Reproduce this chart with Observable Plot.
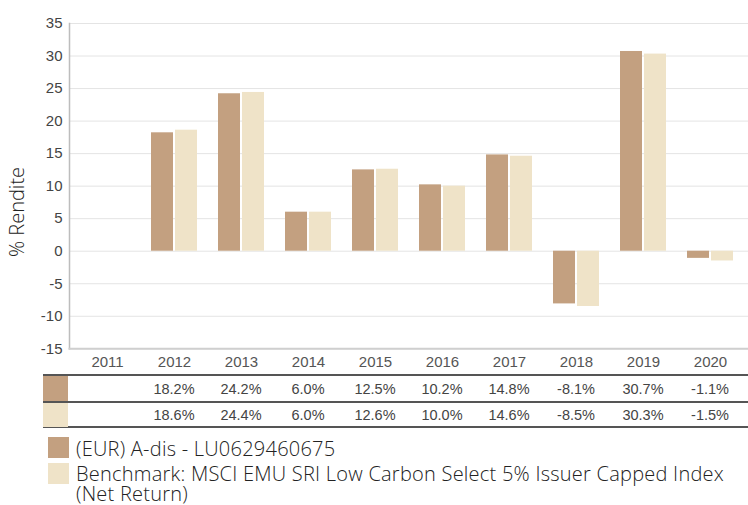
<!DOCTYPE html>
<html>
<head>
<meta charset="utf-8">
<script src="https://cdn.jsdelivr.net/npm/d3@7"></script>
<script src="https://cdn.jsdelivr.net/npm/@observablehq/plot@0.6"></script>
<style>
  html, body { margin: 0; padding: 0; background: #fff; }
  #wrap { position: relative; width: 748px; height: 505px; overflow: hidden; }
  #chart { position: absolute; left: 0; top: 0; }
  .ylabel { position: absolute; left: 17px; top: 212px; transform: translate(-50%, -50%) rotate(-90deg);
            font-family: "Open Sans", sans-serif; font-weight: 300; font-size: 20px; line-height: 20px; color: #222; white-space: nowrap; }
  .tline { position: absolute; left: 43px; width: 705px; height: 0; border-top: 2px solid #555; }
  .tsw { position: absolute; left: 43px; width: 25px; }
  .tval { position: absolute; transform: translate(-50%, -50%); font-family: "Liberation Sans", Arial, sans-serif;
          font-size: 14.5px; color: #444; white-space: nowrap; }
  .lsw { position: absolute; left: 48px; width: 21px; height: 21px; }
  .ltxt { position: absolute; left: 76px; font-family: "Open Sans", sans-serif; font-weight: 300; font-size: 20px;
          line-height: 20px; color: #222; white-space: nowrap; }
</style>
</head>
<body>
<div id="wrap"></div>
<script>
const years = [2011, 2012, 2013, 2014, 2015, 2016, 2017, 2018, 2019, 2020];
const fundValues = [null, 18.2, 24.2, 6.0, 12.5, 10.2, 14.8, -8.1, 30.7, -1.1];
const benchValues = [null, 18.6, 24.4, 6.0, 12.6, 10.0, 14.6, -8.5, 30.3, -1.5];
const yTicks = [-15, -10, -5, 0, 5, 10, 15, 20, 25, 30, 35];
const seriesNames = ["(EUR) A-dis - LU0629460675", "Benchmark: MSCI EMU SRI Low Carbon Select 5% Issuer Capped Index", "(Net Return)"];
const yLabel = "% Rendite";

const fundColor = "#c3a080";
const benchColor = "#efe3c8";

const fund = years.map((year, i) => ({year, value: fundValues[i]}));
const bench = years.map((year, i) => ({year, value: benchValues[i]}));

const chart = Plot.plot({
  width: 748,
  height: 375,
  marginTop: 23,
  marginBottom: 26.7,
  marginLeft: 69,
  marginRight: 0,
  style: {fontFamily: "'Liberation Sans', Arial, sans-serif", background: "#fff"},
  x: {domain: years, paddingInner: 0.31, paddingOuter: 0.155, axis: null},
  y: {domain: [-15, 35], axis: null},
  marks: [
    Plot.gridY(yTicks, {stroke: "#e4e4e4", strokeOpacity: 1}),
    Plot.barY(fund, {filter: d => d.value != null, x: "year", y: "value", fill: fundColor, insetRight: 24}),
    Plot.barY(bench, {filter: d => d.value != null, x: "year", y: "value", fill: benchColor, insetLeft: 24}),
    Plot.frame({anchor: "left", stroke: "#bdbdbd", strokeWidth: 1.5}),
    Plot.frame({anchor: "bottom", stroke: "#cfcfcf", strokeWidth: 2}),
    Plot.axisY(yTicks, {tickSize: 0, tickPadding: 7, fontSize: 15, fill: "#444", label: null, tickFormat: d => String(d)}),
    Plot.axisX(years, {tickSize: 0, tickPadding: 8, fontSize: 15, fill: "#555", label: null, tickFormat: d => String(d)})
  ]
});
chart.id = "chart";
const wrap = document.getElementById("wrap");
wrap.appendChild(chart);

const lab = document.createElement("div");
lab.className = "ylabel"; lab.textContent = yLabel;
wrap.appendChild(lab);

// table
const sx = chart.scale("x");
const cx = y => sx.apply(y) + sx.bandwidth / 2;
[374, 400.5, 426].forEach(t => {
  const l = document.createElement("div"); l.className = "tline"; l.style.top = t + "px"; wrap.appendChild(l);
});
[[376, fundColor], [402.5, benchColor]].forEach(([t, c]) => {
  const s = document.createElement("div"); s.className = "tsw"; s.style.top = t + "px"; s.style.height = "24.5px"; s.style.background = c; wrap.appendChild(s);
});
[[fundValues, 389.3], [benchValues, 415]].forEach(([vals, cy]) => {
  vals.forEach((v, i) => {
    if (v == null) return;
    const d = document.createElement("div"); d.className = "tval";
    d.textContent = v.toFixed(1) + "%";
    d.style.left = cx(years[i]) + "px"; d.style.top = cy + "px";
    wrap.appendChild(d);
  });
});

// legend
[[437, fundColor], [463, benchColor]].forEach(([t, c]) => {
  const s = document.createElement("div"); s.className = "lsw"; s.style.top = t + "px"; s.style.background = c; wrap.appendChild(s);
});
const l1 = document.createElement("div"); l1.className = "ltxt"; l1.style.top = "439px"; l1.textContent = seriesNames[0];
const l2 = document.createElement("div"); l2.className = "ltxt"; l2.style.top = "464px";
l2.appendChild(document.createTextNode(seriesNames[1]));
l2.appendChild(document.createElement("br"));
l2.appendChild(document.createTextNode(seriesNames[2]));
wrap.appendChild(l1); wrap.appendChild(l2);
// fit long legend line to the reference span (76 → 724 px)
const probe = document.createElement("span");
probe.className = "ltxt"; probe.style.position = "absolute"; probe.style.visibility = "hidden"; probe.style.top = "0";
probe.textContent = seriesNames[1]; wrap.appendChild(probe);
const w = probe.getBoundingClientRect().width; probe.remove();
const ls = Math.max(-0.5, Math.min(1.5, (648 - w) / seriesNames[1].length));
l1.style.letterSpacing = ls + "px"; l2.style.letterSpacing = ls + "px";
</script>
</body>
</html>
